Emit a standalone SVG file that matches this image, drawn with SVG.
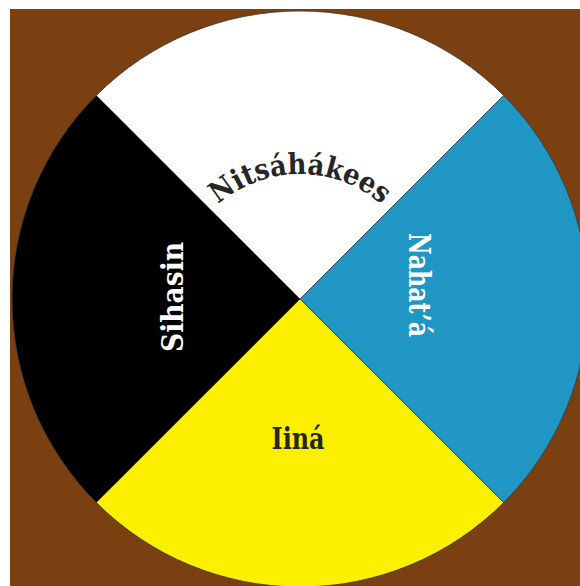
<svg xmlns="http://www.w3.org/2000/svg" width="580" height="586" viewBox="0 0 580 586">
<style>
.lbl{font-family:"DejaVu Serif","Liberation Serif",serif;font-weight:bold;}
.dark{fill:#262626;}
.light{fill:#ffffff;}
.sep{stroke:#333;stroke-width:0.8;}
</style>
<defs>
<path id="arcTop" d="M191.75,236.5 A125,125 0 0 1 408.25,236.5"/>
</defs>
<rect x="0" y="0" width="580" height="586" fill="#ffffff"/>
<rect x="10" y="9" width="570" height="577" fill="#7b4012"/>
<g id="north">
<path d="M300,299 L96.4,95.4 A288,288 0 0 1 503.6,95.4 Z" fill="#ffffff"/>
<text class="lbl dark" font-size="29"><textPath href="#arcTop" startOffset="50%" text-anchor="middle" textLength="178" lengthAdjust="spacingAndGlyphs">Nitsáhákees</textPath></text>
</g>
<g id="east">
<path d="M300,299 L503.6,95.4 A288,288 0 0 1 503.6,502.6 Z" fill="#1f96c4"/>
<text class="lbl light" font-size="30" text-anchor="middle" textLength="104" lengthAdjust="spacingAndGlyphs" transform="translate(409,285) rotate(90)">Nahat’á</text>
</g>
<g id="south">
<path d="M300,299 L503.6,502.6 A288,288 0 0 1 96.4,502.6 Z" fill="#fcf000"/>
<text class="lbl dark" font-size="30" text-anchor="middle" textLength="53" lengthAdjust="spacingAndGlyphs" x="298" y="449">Iiná</text>
</g>
<g id="west">
<path d="M300,299 L96.4,502.6 A288,288 0 0 1 96.4,95.4 Z" fill="#000000"/>
<text class="lbl light" font-size="29" text-anchor="middle" textLength="110" lengthAdjust="spacingAndGlyphs" transform="translate(183,297) rotate(-90)">Sihasin</text>
</g>
<g id="connectors">
<line class="sep" x1="300" y1="299" x2="503.6" y2="95.4"/>
<line class="sep" x1="300" y1="299" x2="503.6" y2="502.6"/>
<circle cx="300" cy="299" r="288" fill="none" stroke="#3a3a3a" stroke-width="0.8"/>
</g>
</svg>
